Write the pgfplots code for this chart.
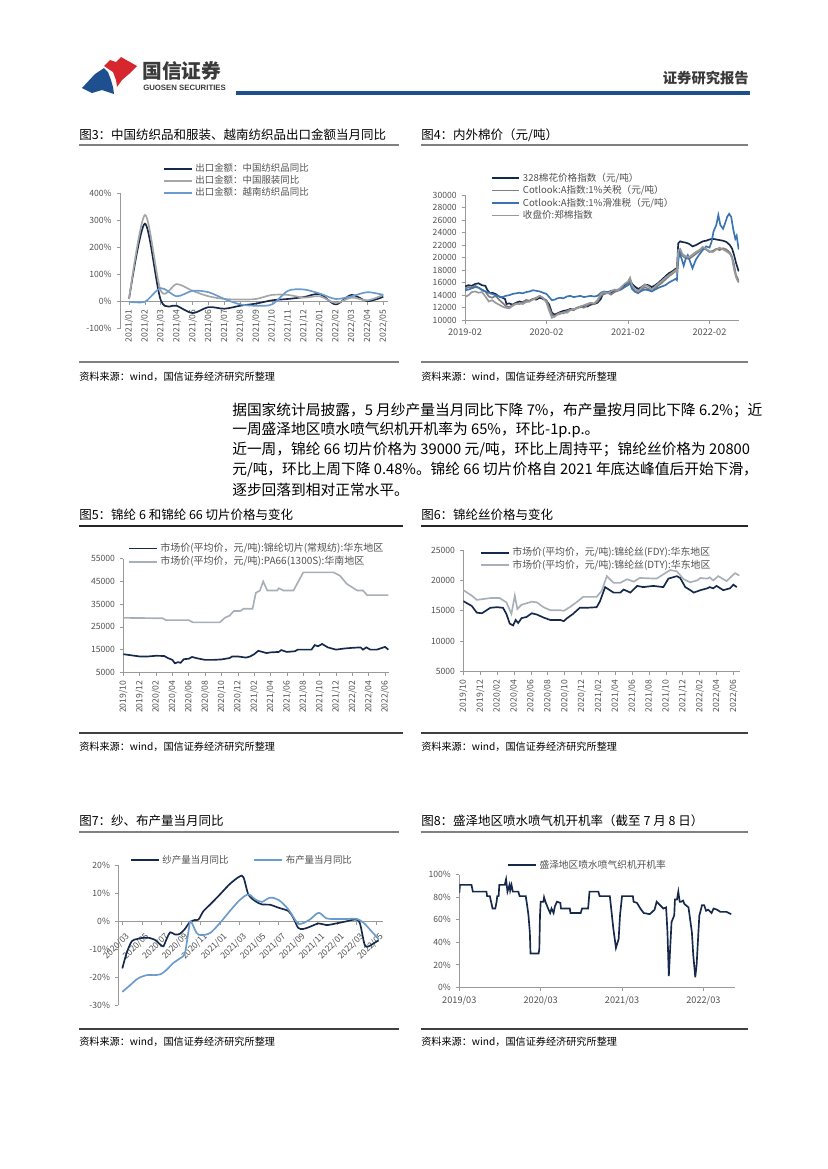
\documentclass[border=0pt]{standalone}
\usepackage{fontspec}
\setmainfont{Noto Sans CJK SC}
\newfontfamily\lat{Liberation Sans}
\usepackage{pgfplots}
\pgfplotsset{compat=1.18}
\definecolor{navy}{HTML}{15294B}
\definecolor{ltg}{HTML}{A6A6A6}
\definecolor{ltb}{HTML}{6B9BCC}
\definecolor{cb}{HTML}{3B74B3}
\definecolor{g1}{HTML}{7F7F7F}
\definecolor{g2}{HTML}{999999}
\definecolor{pg}{HTML}{A7B0B8}
\definecolor{axg}{HTML}{9A9A9A}
\definecolor{tkc}{HTML}{505050}
\definecolor{rule}{HTML}{808080}
\definecolor{lblue}{HTML}{1E4F8F}
\definecolor{lred}{HTML}{D6262E}
\definecolor{hdr}{HTML}{3A3A3A}
\newcommand\tkf{\fontsize{6.2}{7}\selectfont}
\newcommand\ttl{\fontsize{9}{10}\selectfont}
\newcommand\src{\fontsize{7.3}{8}\selectfont}
\newcommand\bdy{\fontsize{10.6}{12}\selectfont}
\pgfplotsset{base/.style={
 scale only axis, anchor=south west,
 tick align=outside, major tick length=2.5pt,
 tick style={draw=axg, line width=0.5pt},
 tick label style={font=\tkf, text=tkc},
 scaled x ticks=false, scaled y ticks=false,
 /pgf/number format/assume math mode=true,
 /pgf/number format/1000 sep={},
 hide obscured x ticks=false, hide obscured y ticks=false,
 legend cell align=left,
 legend style={draw=none, fill=none, inner sep=0pt, anchor=north west, text=tkc},
 legend image code/.code={\draw[##1] (0pt,0pt) -- (20pt,0pt);},
 every axis plot/.append style={line width=1.2pt, mark=none},
 axis line style={draw=axg, line width=0.6pt, -},
}}
\begin{document}
\begin{tikzpicture}
\begin{scope}[x=0.72pt,y=-0.72pt]
\path[use as bounding box] (0,0) rectangle (827,1169);
% header
\fill[lblue] (82,88) -- (95,74) -- (104,68) -- (108,72) -- (111,80) -- (113,87) -- (114,94) -- (102,90) -- (92,93) -- cycle;
\fill[lred] (104,66) -- (110,60) -- (116,62) -- (121,57) -- (137,66) -- (129,74) -- (122,80) -- (117,87) -- (116,80) -- (113,72) -- cycle;
\node[anchor=west, inner sep=0, font=\fontsize{14.2}{15}\selectfont\bfseries, text=hdr] at (142,71) {国信证券};
\node[anchor=west, inner sep=0, font=\lat\bfseries\fontsize{5.6}{6}\selectfont, text=hdr] at (143,88) {GUOSEN SECURITIES};
\node[anchor=east, inner sep=0, font=\fontsize{10.3}{11}\selectfont\bfseries, text=hdr] at (749,78) {证券研究报告};
\draw[lblue, line width=2.2pt] (236,93) -- (750,93);
% titles
\node[anchor=west, inner sep=0, font=\ttl] at (79,135) {图3：中国纺织品和服装、越南纺织品出口金额当月同比};
\node[anchor=west, inner sep=0, font=\ttl] at (421,135) {图4：内外棉价（元/吨）};
\node[anchor=west, inner sep=0, font=\ttl] at (79,515) {图5：锦纶 6 和锦纶 66 切片价格与变化};
\node[anchor=west, inner sep=0, font=\ttl] at (421,515) {图6：锦纶丝价格与变化};
\node[anchor=west, inner sep=0, font=\ttl] at (79,821) {图7：纱、布产量当月同比};
\node[anchor=west, inner sep=0, font=\ttl] at (421,821) {图8：盛泽地区喷水喷气机开机率（截至 7 月 8 日）};
% rules
\draw[rule, line width=1.8pt] (79,145) -- (399,145);
\draw[rule, line width=1.8pt] (421,145) -- (748,145);
\draw[rule, line width=1.8pt] (79,362) -- (399,362);
\draw[rule, line width=1.8pt] (421,362) -- (748,362);
\draw[black!85, line width=0.9pt] (79,526) -- (403,526);
\draw[black!85, line width=0.9pt] (421,526) -- (748,526);
\draw[black!75, line width=0.9pt] (79,733) -- (403,733);
\draw[black!75, line width=0.9pt] (421,733) -- (748,733);
\draw[rule, line width=1.8pt] (79,832) -- (399,832);
\draw[rule, line width=1.8pt] (421,832) -- (748,832);
\draw[black!75, line width=0.9pt] (79,1029) -- (399,1029);
\draw[black!75, line width=0.9pt] (421,1029) -- (748,1029);
% sources
\foreach \xx/\yy in {79/377,421/377,79/747,421/747,79/1042,421/1042}
 \node[anchor=west, inner sep=0, font=\src] at (\xx,\yy) {资料来源：wind，国信证券经济研究所整理};
% body
\node[anchor=west, inner sep=0, font=\bdy] at (232,410) {据国家统计局披露，5 月纱产量当月同比下降 7\%，布产量按月同比下降 6.2\%；近};
\node[anchor=west, inner sep=0, font=\bdy] at (232,430) {一周盛泽地区喷水喷气织机开机率为 65\%，环比-1p.p.。};
\node[anchor=west, inner sep=0, font=\bdy] at (232,450) {近一周，锦纶 66 切片价格为 39000 元/吨，环比上周持平；锦纶丝价格为 20800};
\node[anchor=west, inner sep=0, font=\bdy] at (232,470) {元/吨，环比上周下降 0.48\%。锦纶 66 切片价格自 2021 年底达峰值后开始下滑，};
\node[anchor=west, inner sep=0, font=\bdy] at (232,490) {逐步回落到相对正常水平。};
\end{scope}

% ---------- Chart 3
\begin{axis}[axis x line=middle, axis y line=left, base,
 at={(86.4pt,-236.7pt)}, width=193pt, height=97.5pt,
 xmin=-0.57, xmax=16.3, ymin=-100, ymax=400,
 ytick={-100,0,100,200,300,400}, yticklabel={\pgfmathprintnumber{\tick}\%},
 xtick={0,...,16},
 xticklabels={2021/01,2021/02,2021/03,2021/04,2021/05,2021/06,2021/07,2021/08,2021/09,2021/10,2021/11,2021/12,2022/01,2022/02,2022/03,2022/04,2022/05},
 xticklabel style={rotate=90, anchor=east},
 legend style={at={(0.16,1.24)}, font=\fontsize{6.8}{7}\selectfont, row sep=-2.7pt},
 axis line style={-}]
\addplot[navy, smooth] coordinates {(0,10)(1,288)(2,5)(3,-15)(4,-42)(5,-20)(6,-26)(7,-15)(8,-7)(9,5)(10,10)(11,17)(12,28)(13,-10)(14,25)(15,2)(16,18)};
\addlegendentry{出口金额：中国纺织品同比}
\addplot[ltg, smooth] coordinates {(0,10)(1,320)(2,40)(3,65)(4,40)(5,20)(6,10)(7,8)(8,10)(9,25)(10,25)(11,15)(12,20)(13,-5)(14,15)(15,5)(16,25)};
\addlegendentry{出口金额：中国服装同比}
\addplot[ltb, smooth] coordinates {(0,0)(1,0)(2,50)(3,20)(4,40)(5,35)(6,10)(7,-10)(8,-15)(9,-10)(10,40)(11,45)(12,30)(13,10)(14,20)(15,35)(16,25)};
\addlegendentry{出口金额：越南纺织品同比}
\end{axis}

% ---------- Chart 4
\begin{axis}[axis x line=bottom, axis y line=left, base,
 at={(334.8pt,-230.6pt)}, width=197.3pt, height=90.2pt,
 xmin=0, xmax=40.35, ymin=10000, ymax=30000,
 ytick={10000,12000,...,30000},
 xtick={0,12,24,36}, xticklabels={2019-02,2020-02,2021-02,2022-02},
 xticklabel style={font=\fontsize{6.6}{7}\selectfont},
 legend style={at={(0.093,1.2)}, font=\fontsize{6.9}{7}\selectfont, row sep=-2.4pt},
 axis line style={-}]
\addplot[navy] coordinates {(0,15400)(0.5,15600)(1,15500)(1.5,15800)(2,15900)(2.5,15600)(3,15500)(3.3,14800)(3.7,14300)(4,14400)(4.5,14200)(5,13800)(5.5,13600)(5.9,13400)(6.1,12600)(6.5,12700)(7,12500)(7.5,12800)(8,13000)(8.5,12900)(9,13200)(9.5,13100)(10,13400)(10.5,13300)(11,13600)(11.5,13400)(12,13100)(12.4,12500)(12.8,11200)(13.2,10900)(13.6,11100)(14,11300)(14.5,11500)(15,11600)(15.5,11800)(16,11700)(16.5,12000)(17,12100)(17.5,12300)(18,12200)(18.5,12500)(19,12600)(19.5,12800)(20,13400)(20.3,14200)(20.7,14300)(21,14500)(21.5,14400)(22,14700)(22.5,14800)(23,15100)(23.5,15500)(24,16000)(24.3,16500)(24.6,15800)(25,15400)(25.5,15000)(26,15300)(26.5,15700)(27,15600)(27.5,15300)(28,15600)(28.5,16000)(29,16500)(29.5,17000)(30,17500)(30.5,17800)(31,18200)(31.2,17800)(31.4,22300)(31.7,22600)(32,22500)(32.5,22400)(33,22200)(33.5,21800)(34,22000)(34.5,22300)(35,22600)(35.5,22700)(36,22900)(36.5,23000)(37,22900)(37.5,22800)(38,22700)(38.5,22500)(39,22000)(39.3,21500)(39.6,20500)(39.9,19200)(40.1,18500)(40.3,17800)};
\addlegendentry{328棉花价格指数（元/吨）}
\addplot[g1] coordinates {(0,15000)(0.5,15300)(1,15200)(1.5,15500)(2,15200)(2.5,14800)(3,14600)(3.5,13800)(4,13600)(4.5,13900)(5,13300)(5.5,12800)(6,12300)(6.5,12100)(7,12400)(7.5,12700)(8,12600)(8.5,12900)(9,13200)(9.5,13000)(10,13400)(10.5,13600)(11,13900)(11.5,13500)(12,13200)(12.4,12000)(12.8,10900)(13.2,10600)(13.6,11000)(14,11200)(14.5,11100)(15,11500)(15.5,11700)(16,11600)(16.5,12000)(17,12200)(17.5,12000)(18,12400)(18.5,12700)(19,12600)(19.5,13000)(20,13900)(20.5,14200)(21,14400)(21.5,14100)(22,14500)(22.5,14700)(23,14900)(23.5,15300)(24,15800)(24.3,16300)(24.6,15200)(25,14600)(25.5,14300)(26,14900)(26.5,15300)(27,15000)(27.5,14700)(28,15100)(28.5,15600)(29,16000)(29.5,16500)(30,17000)(30.5,17400)(31,17900)(31.2,17600)(31.4,20800)(31.7,21000)(32,20300)(32.5,19900)(33,19800)(33.5,20200)(34,20600)(34.5,21000)(35,21500)(35.5,21300)(36,20900)(36.5,21100)(37,21400)(37.5,21200)(38,21500)(38.5,21300)(39,20800)(39.3,20200)(39.6,19000)(39.9,17200)(40.1,16800)(40.3,16200)};
\addlegendentry{Cotlook:A指数:1\%关税（元/吨）}
\addplot[cb] coordinates {(0,14800)(0.5,14900)(1,15100)(1.5,15300)(2,15200)(2.5,14900)(3,14600)(3.5,14400)(4,14200)(4.5,14000)(5,13800)(5.5,13700)(6,13900)(6.5,14000)(7,14200)(7.5,14300)(8,14400)(8.5,14300)(9,14500)(9.5,14600)(10,14800)(10.5,14700)(11,14600)(11.5,14400)(12,14200)(12.4,13700)(12.8,13200)(13.2,13300)(13.6,13500)(14,13600)(14.5,13500)(15,13800)(15.5,13900)(16,13700)(16.5,13800)(17,13900)(17.5,13700)(18,13800)(18.5,13900)(19,13800)(19.5,13900)(20,14400)(20.5,14600)(21,14500)(21.5,14700)(22,14800)(22.5,14900)(23,15000)(23.5,15300)(24,15600)(24.3,15900)(24.6,15000)(25,14600)(25.5,14400)(26,14700)(26.5,14900)(27,14800)(27.5,14600)(28,14900)(28.5,15200)(29,15400)(29.5,15600)(30,16000)(30.5,16300)(31,16600)(31.2,16400)(31.4,19500)(31.6,20800)(31.9,19800)(32.2,18700)(32.5,19800)(32.8,20400)(33.1,19500)(33.5,18300)(34,19700)(34.5,20500)(35,21200)(35.5,21800)(36,21600)(36.3,22500)(36.6,24200)(37,25200)(37.3,26800)(37.6,25200)(38,24600)(38.3,25500)(38.6,26500)(38.9,27000)(39.2,26500)(39.5,24500)(39.8,23000)(40,23500)(40.3,21300)};
\addlegendentry{Cotlook:A指数:1\%滑准税（元/吨）}
\addplot[g2] coordinates {(0,13700)(0.5,14000)(1,14500)(1.5,14600)(2,14400)(2.5,14500)(3,13800)(3.5,13000)(4,13200)(4.5,12800)(5,12500)(5.5,12200)(6,12000)(6.5,11900)(7,12300)(7.5,12600)(8,12700)(8.5,12600)(9,12900)(9.5,13000)(10,13300)(10.5,13500)(11,13900)(11.5,13600)(12,12800)(12.4,11500)(12.8,10400)(13.2,10600)(13.6,10900)(14,11000)(14.5,11300)(15,11200)(15.5,11600)(16,11800)(16.5,11900)(17,12200)(17.5,12400)(18,12600)(18.5,12800)(19,12700)(19.5,13200)(20,14200)(20.5,14500)(21,14300)(21.5,14600)(22,14900)(22.5,14800)(23,15300)(23.5,15800)(24,16200)(24.3,16800)(24.6,15600)(25,15000)(25.5,14600)(26,15200)(26.5,15700)(27,15400)(27.5,14900)(28,15400)(28.5,15900)(29,16300)(29.5,16800)(30,17200)(30.5,17600)(31,18000)(31.2,17700)(31.4,21200)(31.7,21400)(32,20600)(32.5,20200)(33,20100)(33.5,20500)(34,20900)(34.5,21200)(35,21700)(35.5,21400)(36,21000)(36.5,20900)(37,21300)(37.5,21600)(38,21300)(38.5,21000)(39,20600)(39.3,20000)(39.6,18200)(39.9,16900)(40.1,16400)(40.3,16000)};
\addlegendentry{收盘价:郑棉指数}
\end{axis}

% ---------- Chart 5
\begin{axis}[axis x line=bottom, axis y line=left, base,
 at={(88.8pt,-484.1pt)}, width=191.4pt, height=81.8pt,
 xmin=0, xmax=32.5, ymin=5000, ymax=55000,
 ytick={5000,15000,...,55000},
 xtick={0,2,...,32},
 xticklabels={2019/10,2019/12,2020/02,2020/04,2020/06,2020/08,2020/10,2020/12,2021/02,2021/04,2021/06,2021/08,2021/10,2021/12,2022/02,2022/04,2022/06},
 xticklabel style={rotate=90, anchor=east},
 legend style={at={(0.017,1.165)}, font=\fontsize{7.2}{7.5}\selectfont, row sep=-2pt},
 axis line style={-}]
\addplot[navy] coordinates {(0,13000)(1,12500)(2,12000)(3,12000)(4,12300)(5,12200)(5.5,11200)(6,10500)(6.3,9000)(6.7,9500)(7,9200)(7.4,10800)(8,11000)(8.4,11800)(9,11200)(10,10500)(11,10500)(12,10700)(12.5,11000)(13,11300)(13.3,12000)(14,12000)(15,11500)(15.5,12000)(16,13000)(16.5,14500)(17,14000)(17.5,13500)(18,13800)(19,14000)(19.3,14800)(20,14000)(21,14300)(21.3,15000)(22,15000)(23,15000)(23.4,17000)(23.8,16500)(24.3,17500)(25,16000)(26,15000)(27,15500)(28,15800)(29,16000)(29.3,15000)(29.7,16000)(30.2,15000)(31,15000)(32,16200)(32.4,15000)};
\addlegendentry{市场价(平均价，元/吨):锦纶切片(常规纺):华东地区}
\addplot[pg] coordinates {(0,29000)(4.8,28800)(5.2,28000)(8,28000)(8.5,27000)(11.8,27000)(12.4,29000)(13,30000)(13.5,32000)(14.3,32000)(14.7,33000)(15.8,33000)(16.2,40000)(16.7,41000)(17.1,45000)(17.6,41000)(18.8,41000)(19,42000)(19.6,41000)(20.8,41000)(22,49000)(25.7,49000)(26.5,47500)(27.3,44000)(28.6,41000)(29.3,41000)(29.8,39000)(32.4,39000)};
\addlegendentry{市场价(平均价，元/吨):PA66(1300S):华南地区}
\end{axis}

% ---------- Chart 6
\begin{axis}[axis x line=bottom, axis y line=left, base,
 at={(333.6pt,-483.6pt)}, width=199.3pt, height=87.6pt,
 xmin=0, xmax=32.8, ymin=5000, ymax=25000,
 ytick={5000,10000,...,25000},
 xtick={0,2,...,32},
 xticklabels={2019/10,2019/12,2020/02,2020/04,2020/06,2020/08,2020/10,2020/12,2021/02,2021/04,2021/06,2021/08,2021/10,2021/12,2022/02,2022/04,2022/06},
 xticklabel style={rotate=90, anchor=east},
 legend style={at={(0.06,1.045)}, font=\fontsize{7.1}{7.5}\selectfont, row sep=-2.8pt},
 axis line style={-}]
\addplot[navy] coordinates {(0,16600)(1.0,15800)(1.6,14700)(2.2,14600)(3.2,15500)(4.0,15600)(4.7,15500)(5.1,14500)(5.5,12900)(5.9,12600)(6.2,13500)(6.5,13000)(6.9,13800)(7.5,14000)(8.1,14600)(8.7,14400)(9.5,13900)(10.3,13500)(11.5,13500)(11.9,13300)(12.3,13800)(13.0,14500)(13.8,15500)(14.6,15500)(15.8,15600)(16.2,16600)(16.8,18900)(17.8,18000)(18.6,18000)(19.0,18500)(19.8,18000)(20.6,19100)(21.3,18900)(22.5,19100)(23.7,18900)(24.3,20300)(25.3,20700)(25.7,20400)(26.3,18900)(26.9,18400)(27.3,18000)(28.1,18400)(28.9,18700)(29.2,18900)(29.6,18700)(30.0,19100)(30.8,18400)(31.6,18700)(32.0,19300)(32.4,18900)};
\addlegendentry{市场价(平均价，元/吨):锦纶丝(FDY):华东地区}
\addplot[pg] coordinates {(0,18400)(1.0,17500)(1.6,16800)(3.2,17100)(4.3,17100)(5.1,16400)(5.7,14500)(6.1,17500)(6.4,15300)(6.9,16000)(8.1,16500)(8.7,16400)(9.5,15600)(10.3,15100)(11.5,15100)(11.9,15000)(12.6,15600)(13.4,16400)(14.2,17300)(15.8,17300)(16.4,18300)(17.0,20700)(17.8,19600)(18.6,19600)(19.4,20200)(20.2,19800)(20.9,20400)(22.9,20300)(23.7,21000)(24.5,21700)(25.3,21500)(26.1,20200)(26.9,19700)(27.7,20000)(28.1,20400)(28.9,20300)(29.2,20500)(29.6,20000)(30.2,20700)(31.2,19900)(31.8,20700)(32.2,21200)(32.7,20800)};
\addlegendentry{市场价(平均价，元/吨):锦纶丝(DTY):华东地区}
\end{axis}

% ---------- Chart 7
\begin{axis}[axis x line=middle, axis y line=left, base,
 at={(85.2pt,-723.6pt)}, width=190.7pt, height=100.6pt,
 xmin=-0.41, xmax=26.7, ymin=-30, ymax=20,
 ytick={-30,-20,...,20}, yticklabel={\pgfmathprintnumber{\tick}\%},
 xtick={0,2,...,26},
 xticklabels={2020/03,2020/05,2020/07,2020/09,2020/11,2021/01,2021/03,2021/05,2021/07,2021/09,2021/11,2022/01,2022/03,2022/05},
 xticklabel style={rotate=45, anchor=east, yshift=-8pt, xshift=1pt},
 legend columns=2,
 legend style={at={(0.044,1.095)}, font=\fontsize{6.8}{7}\selectfont, /tikz/every even column/.append style={column sep=16pt}},
 axis line style={-}]
\addplot[navy, smooth] coordinates {(0,-16.9)(0.44,-11.4)(0.96,-7.2)(1.5,-6.4)(2,-6)(2.8,-6)(3.3,-6.6)(3.9,-8.4)(4.2,-9)(4.5,-6.6)(4.9,-4)(5.4,-4.8)(5.9,-4.5)(6.4,-2.8)(6.9,-0.4)(7.4,0.4)(7.8,0.6)(8.3,3.6)(9,6)(10,9.6)(11,13.3)(12,16)(12.4,15.7)(12.9,9.6)(13.6,7.2)(14.3,6)(15.1,5.9)(16,4.8)(17,3.6)(17.5,1.2)(18,-2.4)(18.5,-2.8)(19.2,-2)(20.1,-0.8)(20.9,-1.4)(21.9,-0.8)(23,0)(23.8,0.6)(24.3,-0.6)(24.8,-8.4)(25.2,-9)(25.7,-8)(26.2,-6.9)};
\addlegendentry{纱产量当月同比}
\addplot[ltb, smooth] coordinates {(0,-25.3)(0.8,-22.9)(1.6,-20.5)(2.5,-19.3)(3.2,-19.3)(3.9,-19)(4.5,-17.5)(5.2,-15)(5.9,-13.3)(6.4,-11.4)(6.8,-3)(7,0)(7.6,-4.2)(8.1,-5)(9,-4.2)(10,-0.6)(11,3.6)(12,7.5)(12.9,9.6)(13.6,7.8)(14.3,6.9)(15.1,8.4)(16,7.6)(17,4.2)(17.9,-0.6)(18.4,-0.8)(19.2,0.6)(20.1,3)(20.9,1)(21.9,0.8)(23,0.8)(24,0.8)(24.7,-0.6)(25.5,-3.6)(26.2,-6.3)};
\addlegendentry{布产量当月同比}
\end{axis}

% ---------- Chart 8
\begin{axis}[axis x line=bottom, axis y line=left, base,
 at={(330.7pt,-710.9pt)}, width=198.7pt, height=81.1pt,
 xmin=0, xmax=40.7, ymin=0, ymax=100,
 ytick={0,20,...,100}, yticklabel={\pgfmathprintnumber{\tick}\%},
 xtick={0,12,24,36}, xticklabels={2019/03,2020/03,2021/03,2022/03},
 xticklabel style={font=\fontsize{6.6}{7}\selectfont},
 legend style={at={(0.173,1.157)}, font=\fontsize{7}{7.5}\selectfont},
 axis line style={-}]
\addplot[navy] coordinates {(0,84)(0.1,91)(1.8,91)(2.0,85)(4.0,85)(4.1,81)(4.5,81)(4.8,73)(4.9,70)(5.3,70)(5.5,76)(5.6,81)(5.8,81)(5.9,91)(6.5,91)(6.7,91)(6.9,96)(7.1,85)(7.4,91)(7.5,86)(7.7,91)(7.9,85)(8.7,85)(8.9,81)(9.8,81)(10.0,73)(10.2,64)(10.4,49)(10.5,30)(11.7,30)(11.8,34)(11.9,64)(12.0,76)(12.4,76)(12.5,80)(12.7,76)(13.1,70)(13.4,66)(13.6,70)(13.9,66)(14.1,72)(14.4,76)(14.9,75)(15.0,70)(16.3,70)(16.4,66)(17.9,66)(18.1,70)(19.0,70)(19.2,85)(20.5,85)(20.7,81)(22.2,81)(22.4,70)(22.7,53)(23.1,35)(23.5,43)(23.7,64)(24.0,81)(25.6,81)(25.7,76)(26.2,75)(26.7,70)(27.2,66)(28.1,65)(28.8,69)(29.1,76)(29.6,73)(30.1,70)(30.5,71)(30.7,49)(30.9,10)(31.1,35)(31.3,58)(31.7,64)(31.8,78)(32.1,78)(32.3,85)(32.5,76)(32.7,76)(33.0,77)(33.2,74)(33.4,73)(33.8,71)(34.3,49)(34.5,29)(34.8,9)(35.0,20)(35.4,64)(35.5,66)(35.8,73)(36.1,73)(36.4,68)(36.7,69)(37.2,66)(37.5,70)(38.0,69)(38.5,67)(39.0,67)(39.4,67)(40.1,65)};
\addlegendentry{盛泽地区喷水喷气织机开机率}
\end{axis}
\end{tikzpicture}
\end{document}
